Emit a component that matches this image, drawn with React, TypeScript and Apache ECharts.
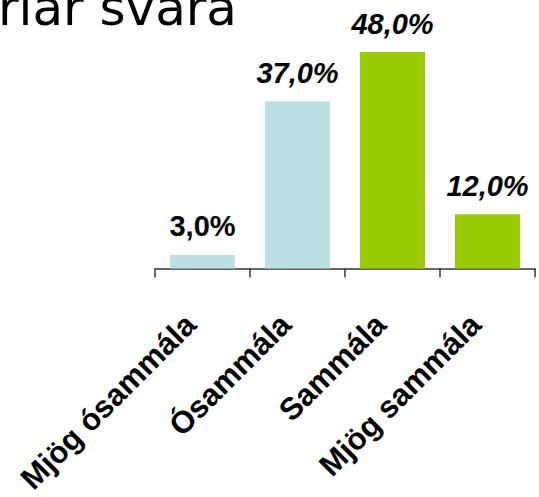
import React, { useEffect, useRef } from "react";
import * as echarts from "echarts";

const categories = ["Mjög ósammála", "Ósammála", "Sammála", "Mjög sammála"];
const values = [3.0, 37.0, 48.0, 12.0];
const barColors = ["#BCE0E4", "#BCE0E4", "#99CC00", "#99CC00"];
const labelItalic = [false, true, true, true];
const titleText = "riar svara";

export default function App() {
  const ref = useRef<HTMLDivElement>(null);
  useEffect(() => {
    document.body.style.margin = "0";
    if (!ref.current) return;
    const chart = echarts.init(ref.current, null, { renderer: "svg" });
    chart.setOption({
      animation: false,
      backgroundColor: "#ffffff",
      graphic: [
        {
          type: "text",
          left: -2,
          top: -17,
          style: {
            text: titleText,
            fontFamily: "DejaVu Sans",
            fontSize: 50,
            fill: "#000000",
          },
        },
      ],
      grid: { left: 155, right: 4, top: 43, bottom: 225, containLabel: false },
      xAxis: {
        type: "category",
        data: categories,
        axisLine: { show: true, lineStyle: { color: "#333333", width: 1.5 } },
        axisTick: { show: true, length: 9, lineStyle: { color: "#333333", width: 1.5 } },
        axisLabel: {
          rotate: 45,
          interval: 0,
          margin: 39,
          padding: [0, 17, 0, 0],
          fontFamily: "Liberation Sans",
          fontWeight: "bold",
          fontSize: 31,
          color: "#000000",
        },
      },
      yAxis: {
        type: "value",
        min: 0,
        max: 50,
        show: false,
        splitLine: { show: false },
      },
      series: [
        {
          type: "bar",
          barWidth: 65,
          data: values.map((v, i) => ({
            value: v,
            itemStyle: { color: barColors[i] },
            label: { fontStyle: labelItalic[i] ? "italic" : "normal" },
          })),
          label: {
            show: true,
            position: "top",
            distance: 14,
            fontFamily: "Liberation Sans",
            fontWeight: "bold",
            fontSize: 29,
            color: "#000000",
            formatter: (p: any) => `${Number(p.value).toFixed(1).replace(".", ",")}%`,
          },
        },
      ],
    });
    return () => chart.dispose();
  }, []);
  return <div ref={ref} style={{ width: 539, height: 497 }} />;
}
